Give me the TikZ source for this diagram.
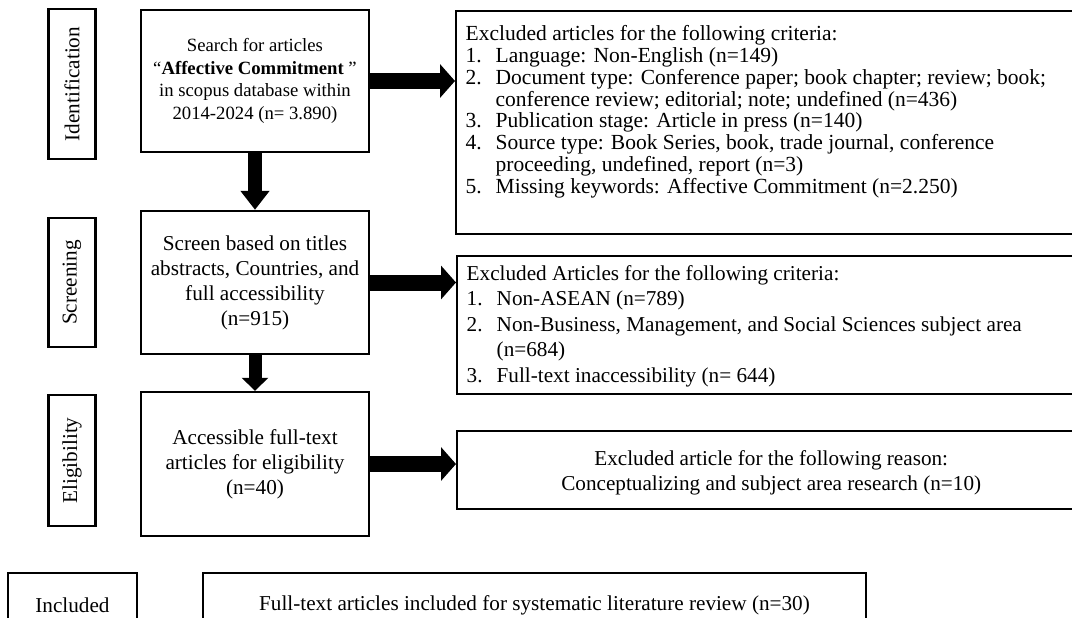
\documentclass[tikz,border=0pt]{standalone}
\usepackage{fontspec}
\setmainfont{Liberation Serif}
\usetikzlibrary{positioning,arrows.meta}
\tikzset{
  main/.style={rectangle, draw=black, line width=2.4pt, align=center, inner sep=2pt,
    font=\fontsize{21.2pt}{25pt}\selectfont},
  stage/.style={main, rotate=90, minimum height=47pt},
  excl/.style={main, anchor=north west, inner xsep=8pt, align=left, minimum width=629pt},
  connect/.style={-{Triangle[length=15pt,width=33pt]}, line width=16pt},
  down/.style={-{Triangle[length=19pt,width=28pt]}, line width=14pt}
}
\newcommand{\itm}[1]{\makebox[30pt][l]{#1}}

\begin{document}
\begin{tikzpicture}[x=1pt,y=-1pt]
  \path[use as bounding box, clip] (0,0) rectangle (1072,618);

  % stage labels on the left
  \foreach \name/\y/\len/\txt in {id/84/150/Identification, sc/282.5/129/Screening, el/460.5/131/Eligibility}
    \node[stage, minimum width=\len pt] (lab_\name) at (72,\y) {\txt};
  \node[main, minimum width=129pt, minimum height=64pt] (lab_in) at (72.5,605) {Included};

  % main column
  \node[main, minimum width=228pt, minimum height=142pt, font=\fontsize{18.7pt}{22.5pt}\selectfont]
    (s_1) at (255,81) {Search for articles\\``\textbf{Affective Commitment} ''\\in scopus database within\\2014-2024 (n= 3.890)};
  \node[main, minimum width=228pt, minimum height=143pt] (s_2) at (255,282.5)
    {Screen based on titles\\abstracts, Countries, and\\full accessibility\\(n=915)};
  \node[main, minimum width=228pt, minimum height=144pt] (s_3) at (255,464)
    {Accessible full-text\\articles for eligibility\\(n=40)};
  \node[main, minimum width=663pt, minimum height=64pt] (s_4) at (534.5,605)
    {Full-text articles included for systematic literature review (n=30)};

  % excluded boxes on the right
  \node[excl, inner ysep=14pt, font=\fontsize{21.5pt}{21.9pt}\selectfont] (e_1) at (455,10)
    {\parbox[t][195pt][t]{610pt}{%
      Excluded articles for the following criteria:\\
      \itm{1.}Language: Non-English (n=149)\\
      \itm{2.}Document type: Conference paper; book chapter; review; book;\\
      \hspace*{30pt}conference review; editorial; note; undefined (n=436)\\
      \itm{3.}Publication stage: Article in press (n=140)\\
      \itm{4.}Source type: Book Series, book, trade journal, conference\\
      \hspace*{30pt}proceeding, undefined, report (n=3)\\
      \itm{5.}Missing keywords: Affective Commitment (n=2.250)}};
  \node[excl, inner ysep=9pt, font=\fontsize{21.2pt}{25.5pt}\selectfont] (e_2) at (456,255)
    {\parbox[t][120pt][t]{610pt}{%
      Excluded Articles for the following criteria:\\
      \itm{1.}Non-ASEAN (n=789)\\
      \itm{2.}Non-Business, Management, and Social Sciences subject area\\
      \hspace*{30pt}(n=684)\\
      \itm{3.}Full-text inaccessibility (n= 644)}};
  \node[main, anchor=north west, minimum width=628pt, minimum height=78pt] (e_3) at (456,430)
    {\parbox[c][60pt][c]{610pt}{\centering\vspace*{6pt}%
      Excluded article for the following reason:\\Conceptualizing and subject area research (n=10)}};

  % arrows
  \path (s_1) edge[down] (s_2);
  \path (s_2) edge[down, -{Triangle[length=13pt,width=26pt]}, line width=13pt] (s_3);
  \foreach \i in {1,2,3}
    \path (s_\i.east) edge[connect] (s_\i.east -| e_\i.west);
\end{tikzpicture}
\end{document}
